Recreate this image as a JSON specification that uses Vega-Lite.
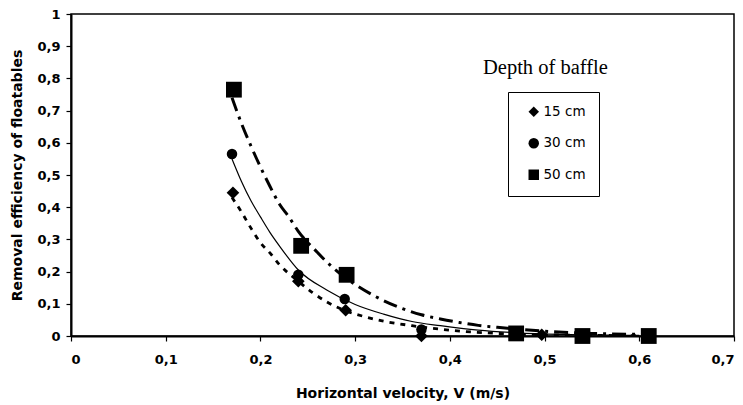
{
  "$schema": "https://vega.github.io/schema/vega-lite/v6.json",
  "width": 663,
  "height": 322,
  "autosize": "none",
  "padding": {"left": 71, "top": 14, "right": 9, "bottom": 69},
  "background": "white",
  "title": {
    "text": "Depth of baffle",
    "orient": "top",
    "anchor": "start",
    "frame": "group",
    "dx": 412,
    "offset": -86,
    "baseline": "alphabetic",
    "font": "Liberation Serif",
    "fontSize": 20.5,
    "fontWeight": "normal",
    "color": "black"
  },
  "config": {
    "locale": {"number": {"decimal": ",", "thousands": ".", "grouping": [3], "currency": ["", " €"]}},
    "view": {"stroke": "black", "strokeWidth": 1.5},
    "axis": {
      "grid": false,
      "domainColor": "black",
      "domainWidth": 2,
      "tickColor": "black",
      "tickWidth": 1.2,
      "tickSize": 5,
      "labelOverlap": false,
      "labelFont": "DejaVu Sans",
      "labelFontSize": 13,
      "labelFontWeight": "bold",
      "labelColor": "black",
      "titleFont": "DejaVu Sans",
      "titleFontSize": 14,
      "titleFontWeight": "bold",
      "titleColor": "black"
    }
  },
  "datasets": {
    "points": [
      {"series": "15 cm", "v": 0.171, "eff": 0.445},
      {"series": "15 cm", "v": 0.24, "eff": 0.17},
      {"series": "15 cm", "v": 0.29, "eff": 0.08},
      {"series": "15 cm", "v": 0.37, "eff": 0.0},
      {"series": "15 cm", "v": 0.497, "eff": 0.004},
      {"series": "15 cm", "v": 0.54, "eff": 0.0},
      {"series": "15 cm", "v": 0.61, "eff": 0.0},
      {"series": "30 cm", "v": 0.17, "eff": 0.565},
      {"series": "30 cm", "v": 0.24, "eff": 0.19},
      {"series": "30 cm", "v": 0.289, "eff": 0.115},
      {"series": "30 cm", "v": 0.37, "eff": 0.02},
      {"series": "30 cm", "v": 0.47, "eff": 0.005},
      {"series": "30 cm", "v": 0.54, "eff": 0.0},
      {"series": "30 cm", "v": 0.61, "eff": 0.0},
      {"series": "50 cm", "v": 0.172, "eff": 0.765},
      {"series": "50 cm", "v": 0.243, "eff": 0.28},
      {"series": "50 cm", "v": 0.291, "eff": 0.19},
      {"series": "50 cm", "v": 0.47, "eff": 0.008},
      {"series": "50 cm", "v": 0.54, "eff": 0.0},
      {"series": "50 cm", "v": 0.61, "eff": 0.0}
    ],
    "curves": [
      {"series": "15 cm", "v": 0.17, "eff": 0.43},
      {"series": "15 cm", "v": 0.18, "eff": 0.385},
      {"series": "15 cm", "v": 0.19, "eff": 0.335},
      {"series": "15 cm", "v": 0.2, "eff": 0.29},
      {"series": "15 cm", "v": 0.21, "eff": 0.258},
      {"series": "15 cm", "v": 0.22, "eff": 0.222},
      {"series": "15 cm", "v": 0.24, "eff": 0.17},
      {"series": "15 cm", "v": 0.255, "eff": 0.135},
      {"series": "15 cm", "v": 0.27, "eff": 0.106},
      {"series": "15 cm", "v": 0.29, "eff": 0.078},
      {"series": "15 cm", "v": 0.31, "eff": 0.06},
      {"series": "15 cm", "v": 0.33, "eff": 0.046},
      {"series": "15 cm", "v": 0.36, "eff": 0.032},
      {"series": "15 cm", "v": 0.4, "eff": 0.018},
      {"series": "15 cm", "v": 0.45, "eff": 0.008},
      {"series": "15 cm", "v": 0.5, "eff": 0.004},
      {"series": "15 cm", "v": 0.6, "eff": 0.001},
      {"series": "30 cm", "v": 0.17, "eff": 0.55},
      {"series": "30 cm", "v": 0.18, "eff": 0.48},
      {"series": "30 cm", "v": 0.19, "eff": 0.42},
      {"series": "30 cm", "v": 0.2, "eff": 0.37},
      {"series": "30 cm", "v": 0.21, "eff": 0.322},
      {"series": "30 cm", "v": 0.22, "eff": 0.28},
      {"series": "30 cm", "v": 0.24, "eff": 0.205},
      {"series": "30 cm", "v": 0.27, "eff": 0.143},
      {"series": "30 cm", "v": 0.3, "eff": 0.098},
      {"series": "30 cm", "v": 0.33, "eff": 0.068},
      {"series": "30 cm", "v": 0.36, "eff": 0.045},
      {"series": "30 cm", "v": 0.39, "eff": 0.032},
      {"series": "30 cm", "v": 0.43, "eff": 0.018},
      {"series": "30 cm", "v": 0.47, "eff": 0.01},
      {"series": "30 cm", "v": 0.52, "eff": 0.005},
      {"series": "30 cm", "v": 0.6, "eff": 0.002},
      {"series": "50 cm", "v": 0.17, "eff": 0.74},
      {"series": "50 cm", "v": 0.18, "eff": 0.66},
      {"series": "50 cm", "v": 0.19, "eff": 0.59},
      {"series": "50 cm", "v": 0.2, "eff": 0.525},
      {"series": "50 cm", "v": 0.21, "eff": 0.465},
      {"series": "50 cm", "v": 0.22, "eff": 0.41},
      {"series": "50 cm", "v": 0.23, "eff": 0.37},
      {"series": "50 cm", "v": 0.24, "eff": 0.325},
      {"series": "50 cm", "v": 0.26, "eff": 0.26},
      {"series": "50 cm", "v": 0.27, "eff": 0.23},
      {"series": "50 cm", "v": 0.29, "eff": 0.18},
      {"series": "50 cm", "v": 0.3, "eff": 0.16},
      {"series": "50 cm", "v": 0.32, "eff": 0.125},
      {"series": "50 cm", "v": 0.35, "eff": 0.085},
      {"series": "50 cm", "v": 0.37, "eff": 0.066},
      {"series": "50 cm", "v": 0.39, "eff": 0.053},
      {"series": "50 cm", "v": 0.41, "eff": 0.042},
      {"series": "50 cm", "v": 0.43, "eff": 0.033},
      {"series": "50 cm", "v": 0.45, "eff": 0.027},
      {"series": "50 cm", "v": 0.5, "eff": 0.015},
      {"series": "50 cm", "v": 0.55, "eff": 0.008},
      {"series": "50 cm", "v": 0.6, "eff": 0.005}
    ]
  },
  "encoding": {
    "x": {"field": "v", "type": "quantitative", "scale": {"domain": [0, 0.7]},
      "axis": {"values": [0, 0.1, 0.2, 0.3, 0.4, 0.5, 0.6, 0.7], "format": ".1~f", "labelPadding": 12, "titlePadding": 20, "title": "Horizontal velocity, V (m/s)"}},
    "y": {"field": "eff", "type": "quantitative", "scale": {"domain": [0, 1]},
      "axis": {"values": [0, 0.1, 0.2, 0.3, 0.4, 0.5, 0.6, 0.7, 0.8, 0.9, 1], "format": ".1~f", "labelPadding": 6, "titlePadding": 12, "title": "Removal efficiency of floatables"}}
  },
  "layer": [
    {
      "data": {"name": "curves"},
      "transform": [{"filter": "datum.series === '15 cm'"}],
      "mark": {"type": "line", "color": "black", "interpolate": "monotone", "strokeWidth": 2.8, "strokeDash": [5, 6]}
    },
    {
      "data": {"name": "curves"},
      "transform": [{"filter": "datum.series === '30 cm'"}],
      "mark": {"type": "line", "color": "black", "interpolate": "monotone", "strokeWidth": 1.2}
    },
    {
      "data": {"name": "curves"},
      "transform": [{"filter": "datum.series === '50 cm'"}],
      "mark": {"type": "line", "color": "black", "interpolate": "monotone", "strokeWidth": 3, "strokeDash": [14, 6, 3, 6]}
    },
    {
      "data": {"name": "points"},
      "transform": [{"filter": "datum.series === '15 cm'"}],
      "mark": {"type": "point", "filled": true, "color": "black", "opacity": 1, "size": 160},
      "encoding": {"shape": {"field": "series", "type": "nominal",
        "scale": {"domain": ["15 cm", "30 cm", "50 cm"], "range": ["diamond", "circle", "square"]},
        "legend": {"title": null, "orient": "none", "legendX": 437, "legendY": 78,
          "strokeColor": "black", "fillColor": "white", "padding": 13, "symbolOffset": 6, "rowPadding": 14.5,
          "labelFont": "DejaVu Sans", "labelFontSize": 13.5, "labelColor": "black", "labelOffset": 3,
          "symbolFillColor": "black", "symbolStrokeColor": "black", "symbolSize": 110}}}
    },
    {
      "data": {"name": "points"},
      "transform": [{"filter": "datum.series === '30 cm'"}],
      "mark": {"type": "point", "filled": true, "color": "black", "opacity": 1, "size": 110},
      "encoding": {"shape": {"field": "series", "type": "nominal"}}
    },
    {
      "data": {"name": "points"},
      "transform": [{"filter": "datum.series === '50 cm'"}],
      "mark": {"type": "point", "filled": true, "color": "black", "opacity": 1, "size": 250},
      "encoding": {"shape": {"field": "series", "type": "nominal"}}
    }
  ],
  "resolve": {"scale": {"shape": "shared"}, "legend": {"shape": "shared"}}
}
